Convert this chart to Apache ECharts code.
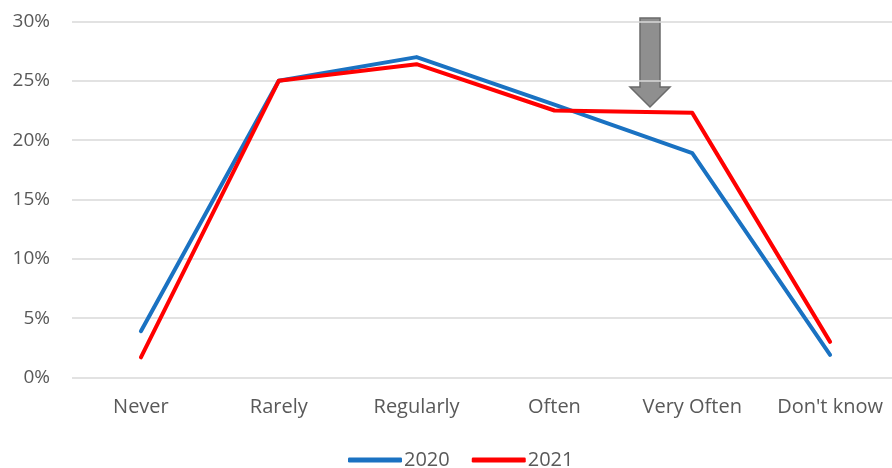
<!DOCTYPE html>
<html><head><meta charset="utf-8">
<script src="https://cdn.jsdelivr.net/npm/echarts@6/dist/echarts.min.js"></script>
<style>html,body{margin:0;padding:0;background:#fff;overflow:hidden}#c{width:920px;height:468px}</style>
</head><body><div id="c"></div>
<script>
var categories = ['Never','Rarely','Regularly','Often','Very Often',"Don't know"];
var values2020 = [3.9, 25.0, 27.0, 23.0, 18.9, 1.9];
var values2021 = [1.7, 25.0, 26.4, 22.5, 22.3, 3.0];
var seriesNames = ['2020','2021'];

var chart = echarts.init(document.getElementById('c'), null, {renderer:'canvas'});
var font = "'Open Sans', 'Liberation Sans', sans-serif";
chart.setOption({
  animation:false,
  grid:{left:72, top:21.5, width:827, height:356},
  xAxis:{type:'category', data:categories, boundaryGap:true,
    axisLine:{show:false}, axisTick:{show:false},
    axisLabel:{color:'#595959', fontSize:20, fontFamily:font, margin:20}},
  yAxis:{type:'value', min:0, max:30, interval:5,
    axisLabel:{formatter:'{value}%', color:'#595959', fontSize:19, fontFamily:font, margin:22},
    splitLine:{lineStyle:{color:'#d9d9d9', width:1.5}},
    axisLine:{show:false}, axisTick:{show:false}},
  legend:{top:445, left:343, icon:'roundRect', itemWidth:54, itemHeight:5, itemGap:22,
    textStyle:{color:'#595959', fontSize:20, fontFamily:font, padding:[0,0,0,-3]},
    data:seriesNames},
  series:[
    {name:seriesNames[0], type:'line', data:values2020, symbol:'none',
     lineStyle:{color:'#1a72c2', width:4, cap:'round', join:'round'}, itemStyle:{color:'#1a72c2'}},
    {name:seriesNames[1], type:'line', data:values2021, symbol:'none',
     lineStyle:{color:'#ff0000', width:4, cap:'round', join:'round'}, itemStyle:{color:'#ff0000'}}
  ],
  graphic:[{type:'polygon', shape:{points:[[640,18],[660,18],[660,87],[670,87],[650,107],[630,87],[640,87]]},
    style:{fill:'#8f8f8f', stroke:'#6b6b6b', lineWidth:1.5}}]
});
</script></body></html>
